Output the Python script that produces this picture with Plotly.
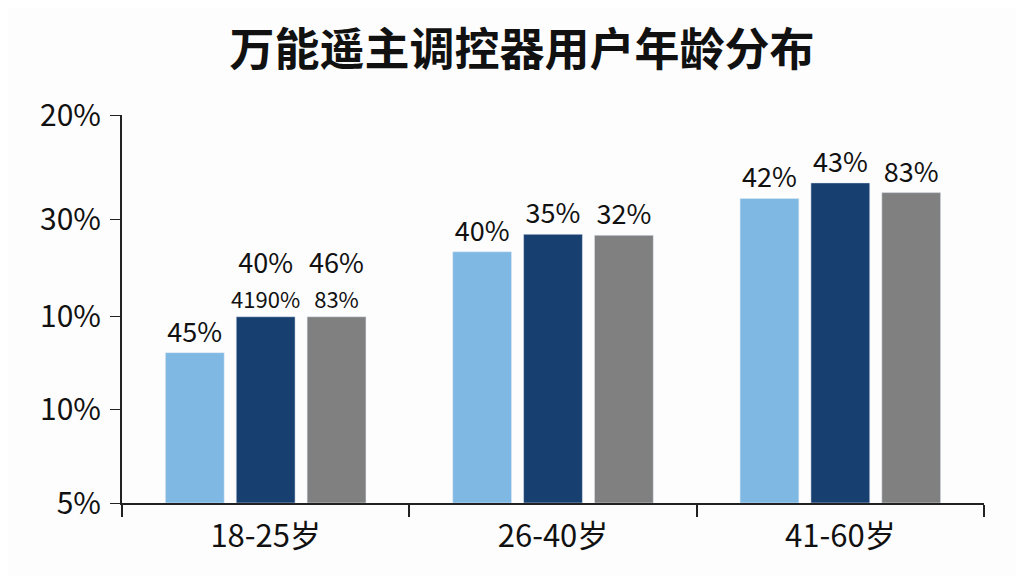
import plotly.graph_objects as go

# age groups and the three series (values in axis units)
age_groups = ['18-25岁', '26-40岁', '41-60岁']
light_vals = [1.55, 2.59, 3.14]
dark_vals = [1.92, 2.77, 3.30]
gray_vals = [1.92, 2.76, 3.20]

small = '<span style="font-size:22px">%s</span>'
light_text = ['45%', '40%', '42%']
dark_text = ['40%<br>' + small % '4190%', '35%', '43%']
gray_text = ['46%<br>' + small % '83%', '32%', '83%']

# y tick labels exactly as printed on the chart
tick_vals = [0, 0.96, 1.92, 2.92, 4]
tick_text = ['5%', '10%', '10%', '30%', '20%']

font_family = 'Noto Sans CJK SC, Noto Sans, sans-serif'

fig = go.Figure()
for vals, txt, color in [(light_vals, light_text, '#7fb8e3'),
                         (dark_vals, dark_text, '#173f70'),
                         (gray_vals, gray_text, '#808080')]:
    fig.add_trace(go.Bar(x=age_groups, y=vals, text=txt, marker_color=color,
                         textposition='outside', cliponaxis=False,
                         constraintext='none',
                         textfont=dict(size=27, color='#111111'),
                         showlegend=False))

# the page body adds an 8px offset, so margins are reduced to compensate
fig.update_layout(
    width=1024, height=576,
    paper_bgcolor='#fdfdfd', plot_bgcolor='#fdfdfd',
    margin=dict(l=114, r=48, t=107, b=81),
    font_family=font_family,
    barmode='group', bargap=0.26, bargroupgap=0.17,
    title=dict(text='万能遥主调控器用户年龄分布', x=0.502, xanchor='center',
               y=0.927, yanchor='middle',
               font=dict(size=45, color='#111111', weight='bold')),
)
fig.update_xaxes(showline=True, linecolor='#222222', linewidth=2,
                 automargin=False,
                 ticks='outside', tickson='boundaries', ticklen=12,
                 tickcolor='#222222', tickwidth=1.5, ticklabelstandoff=5,
                 tickfont=dict(size=31, color='#111111'))
fig.update_yaxes(range=[0, 4], showgrid=False, zeroline=False,
                 automargin=False,
                 showline=True, linecolor='#222222', linewidth=2,
                 ticks='outside', ticklen=10, tickcolor='#222222',
                 ticklabelstandoff=3,
                 tickvals=tick_vals, ticktext=tick_text,
                 tickfont=dict(size=30, color='#111111'))

fig.write_html('out.html')
